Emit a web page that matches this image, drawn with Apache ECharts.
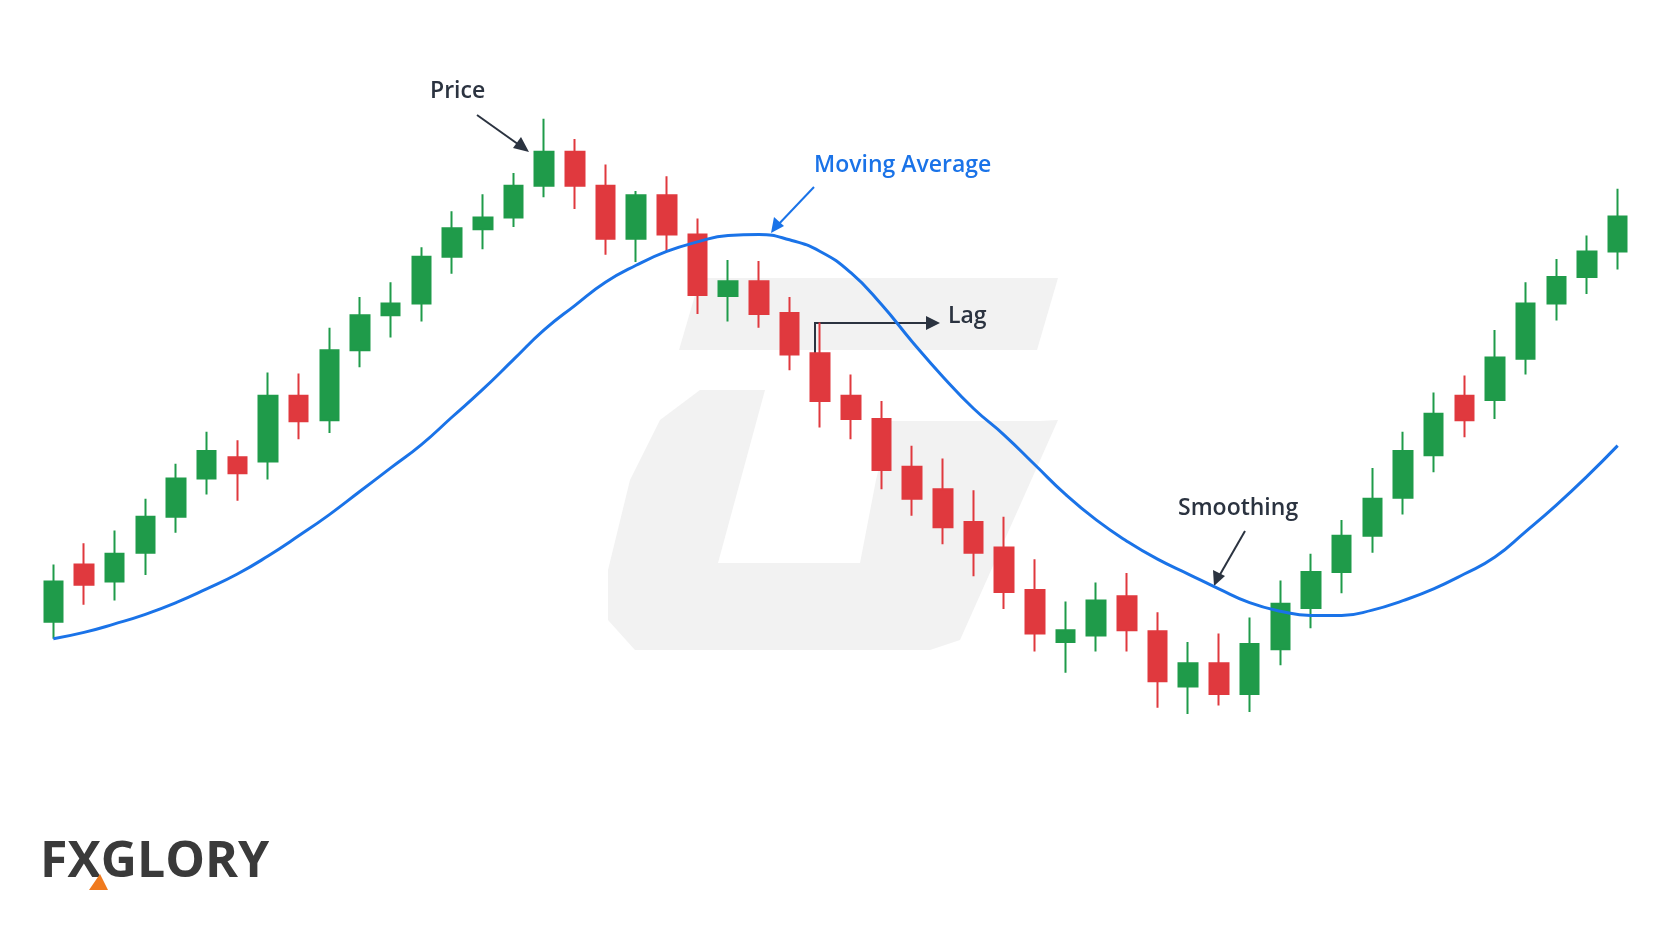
<!DOCTYPE html>
<html>
<head>
<meta charset="utf-8">
<script src="https://cdn.jsdelivr.net/npm/echarts@6/dist/echarts.min.js"></script>
<style>
  html, body { margin: 0; padding: 0; background: #fff; }
  #main { width: 1664px; height: 928px; }
</style>
</head>
<body>
<div id="main"></div>
<script>
// candles: [open, close, low, high]
var candles = [
  [314,352,298,368],[368,349,330,388],[352,378,334,400],[379,413,358,430],
  [413,449,398,463],[449,475,434,493],[469,454,428,485],[465,527,448,549],
  [527,503,486,548],[504,570,492,591],[570,603,554,620],[603,614,582,634],
  [614,658,597,667],[658,685,642,701],[684,695,665,717],[695,725,686,737],
  [725,757,714,788],[757,725,703,769],[725,675,660,745],[675,716,653,720],
  [716,679,663,734],[679,622,604,694],[621,635,597,655],[635,604,591,654],
  [605,566,551,620],[567,522,497,596],[527,505,486,547],[505,457,439,522],
  [460,430,414,480],[439,403,387,468],[408,379,357,438],[384,342,326,413],
  [344,303,286,373],[295,306,266,333],[301,334,286,351],[338,306,286,360],
  [305,258,233,323],[253,275,227,295],[275,246,235,303],[246,293,229,318],
  [288,331,273,353],[327,361,308,378],[361,395,341,410],[395,430,379,459],
  [431,475,415,493],[471,510,455,530],[527,504,488,546],[523,563,505,589],
  [562,614,547,634],[614,639,598,656],[639,663,623,678],[663,696,646,722]
];
// moving average line
var maValues = [298,304,312,321,332,345,359,376,395,415,437,459,481,507,533,561,589,612,634,650,
  663,672,678,679,674,663,643,613,578,545,515,490,462,434,410,390,373,359,345,332,
  324,320,320,325,334,345,359,375,399,424,451,480];
var days = candles.map(function (c, i) { return 'D' + (i + 1); });

var myChart = echarts.init(document.getElementById('main'));
var ink = '#2b3340';
var wm = '#f2f2f2';
var labelFont = '600 23px "Open Sans", sans-serif';

option = {
    backgroundColor: '#ffffff',
    animation: false,
    grid: { left: 38, right: 31, top: 0, bottom: 0 },
    xAxis: { type: 'category', data: days, boundaryGap: true, show: false },
    yAxis: { type: 'value', min: 25.4, max: 900, show: false },
    graphic: [
        // watermark
        { type: 'polygon', z: -10, silent: true, shape: { points: [[679,350],[700,278],[1058,278],[1037,350]] }, style: { fill: wm } },
        { type: 'polygon', z: -10, silent: true, shape: { points: [[765,390],[700,390],[660,420],[630,480],[608,570],[608,620],[635,650],[930,650],[960,640],[1058,420],[1040,421],[890,421],[876,480],[860,563],[718,563]] }, style: { fill: wm } },
        // Price
        { type: 'text', left: 430, top: 80, style: { text: 'Price', font: labelFont, fill: ink } },
        { type: 'line', shape: { x1: 477, y1: 115, x2: 522, y2: 147 }, style: { stroke: ink, lineWidth: 2 } },
        { type: 'polygon', shape: { points: [[529,152],[513,148],[521,137]] }, style: { fill: ink } },
        // Moving Average
        { type: 'text', left: 814, top: 154, style: { text: 'Moving Average', font: labelFont, fill: '#1a73e8' } },
        { type: 'line', shape: { x1: 814, y1: 187, x2: 776, y2: 227 }, style: { stroke: '#1a73e8', lineWidth: 2 } },
        { type: 'polygon', shape: { points: [[771,233],[774,217],[784,226]] }, style: { fill: '#1a73e8' } },
        // Lag
        { type: 'polyline', shape: { points: [[815,353],[815,323],[928,323]] }, style: { stroke: ink, lineWidth: 2 } },
        { type: 'polygon', shape: { points: [[940,323],[926,316],[926,330]] }, style: { fill: ink } },
        { type: 'text', left: 948, top: 305, style: { text: 'Lag', font: labelFont, fill: ink } },
        // Smoothing
        { type: 'text', left: 1178, top: 497, style: { text: 'Smoothing', font: labelFont, fill: ink } },
        { type: 'line', shape: { x1: 1245, y1: 531, x2: 1218, y2: 578 }, style: { stroke: ink, lineWidth: 2 } },
        { type: 'polygon', shape: { points: [[1214,586],[1213,570],[1225,576]] }, style: { fill: ink } },
        // logo
        { type: 'text', left: 40, top: 838, style: { text: 'FXGLORY', font: 'bold 50px "Open Sans", sans-serif', fill: '#3a3a3a' } },
        { type: 'polygon', shape: { points: [[89,890],[100,874],[108,890]] }, style: { fill: '#f07a1e' } }
    ],
    series: [
        {
            name: 'Price',
            type: 'candlestick',
            data: candles,
            barWidth: 19,
            itemStyle: {
                color: '#1f9b4a', borderColor: '#1f9b4a',
                color0: '#e0393e', borderColor0: '#e0393e',
                borderWidth: 2
            }
        },
        {
            name: 'Moving Average',
            type: 'line',
            data: maValues,
            smooth: true,
            symbol: 'none',
            lineStyle: { color: '#1a73e8', width: 3 },
            z: 3
        }
    ]
};
myChart.setOption(option);
</script>
</body>
</html>
